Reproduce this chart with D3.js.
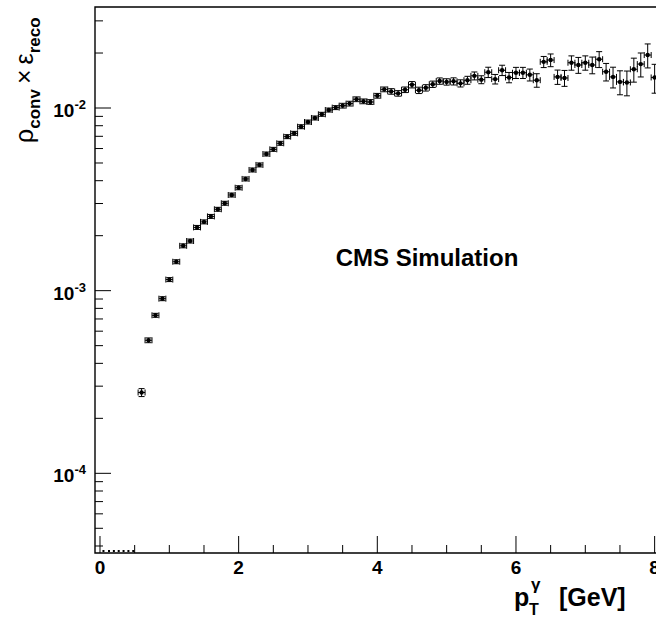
<!DOCTYPE html>
<html>
<head>
<meta charset="utf-8">
<script src="https://cdn.jsdelivr.net/npm/d3@7/dist/d3.min.js"></script>
<style>
  body { margin: 0; background: #fff; }
  svg { display: block; }
  text { font-family: "Liberation Sans", Arial, Helvetica, sans-serif; font-weight: bold; fill: #000; }
</style>
</head>
<body>
<svg id="chart" width="656" height="619"></svg>
<script>
// bin centres (GeV) and rho_conv x eps_reco
const ptBins = [0.6, 0.7, 0.8, 0.9, 1.0, 1.1, 1.2, 1.3, 1.4, 1.5, 1.6, 1.7, 1.8, 1.9, 2.0,
  2.1, 2.2, 2.3, 2.4, 2.5, 2.6, 2.7, 2.8, 2.9, 3.0, 3.1, 3.2, 3.3, 3.4, 3.5,
  3.6, 3.7, 3.8, 3.9, 4.0, 4.1, 4.2, 4.3, 4.4, 4.5, 4.6, 4.7, 4.8, 4.9, 5.0,
  5.1, 5.2, 5.3, 5.4, 5.5, 5.6, 5.7, 5.8, 5.9, 6.0, 6.1, 6.2, 6.3, 6.4, 6.5,
  6.6, 6.7, 6.8, 6.9, 7.0, 7.1, 7.2, 7.3, 7.4, 7.5, 7.6, 7.7, 7.8, 7.9, 8.0];
const effValues = [2.77e-4, 5.35e-4, 7.33e-4, 9.04e-4, 1.15e-3, 1.44e-3, 1.76e-3, 1.87e-3, 2.22e-3, 2.38e-3,
  2.55e-3, 2.79e-3, 3.01e-3, 3.34e-3, 3.66e-3, 4.09e-3, 4.58e-3, 4.88e-3, 5.60e-3, 5.94e-3,
  6.41e-3, 6.97e-3, 7.27e-3, 7.90e-3, 8.38e-3, 8.82e-3, 9.24e-3, 9.75e-3, 1.005e-2, 1.03e-2,
  1.057e-2, 1.117e-2, 1.088e-2, 1.079e-2, 1.167e-2, 1.265e-2, 1.233e-2, 1.203e-2, 1.259e-2, 1.342e-2,
  1.25e-2, 1.29e-2, 1.35e-2, 1.405e-2, 1.39e-2, 1.40e-2, 1.365e-2, 1.42e-2, 1.50e-2, 1.43e-2,
  1.57e-2, 1.44e-2, 1.61e-2, 1.47e-2, 1.56e-2, 1.56e-2, 1.52e-2, 1.42e-2, 1.79e-2, 1.83e-2,
  1.48e-2, 1.46e-2, 1.77e-2, 1.72e-2, 1.77e-2, 1.72e-2, 1.85e-2, 1.58e-2, 1.48e-2, 1.39e-2,
  1.38e-2, 1.63e-2, 1.74e-2, 1.95e-2, 1.47e-2];
// relative error (%) on each bin
const errPct = [5, 3, 2.5, 2.5, 2.5, 2.5, 2.5, 2.5, 2.5, 2.5,
  2.5, 2.5, 2.5, 2.5, 2.5, 2.5, 2.5, 2.5, 2.5, 2.5,
  2.5, 2.5, 2.5, 2.5, 2.5, 2.5, 2.5, 2.5, 2.5, 3,
  3, 3, 3, 3, 3, 3, 3.5, 3.5, 3.5, 4,
  4, 4, 4, 4, 4, 4.5, 4.5, 5, 5, 5,
  6.5, 6, 6.5, 6.5, 7, 7, 7.5, 8.5, 7, 8,
  9, 10, 9, 10, 9, 10.5, 10, 11, 13, 15,
  15.5, 15, 15, 15, 18];
// underflow bins drawn as dots on the axis
const lowBins = [0.05, 0.13, 0.2, 0.27, 0.34, 0.41, 0.48];
const binWidth = 0.1;

const xMajor = [0, 2, 4, 6, 8];
const yDecades = [-4, -3, -2];

const svg = d3.select('#chart');
const frame = { left: 95, top: 7, bottom: 553 };

const x = d3.scaleLinear().domain([-0.072, 10]).range([frame.left, frame.left + 10.072 * 69.33]);
const y = d3.scaleLog().domain([3.662e-5, 3.573e-2]).range([frame.bottom, frame.top]);

const g = svg.append('g');

// frame (right side falls outside the picture)
g.append('path')
	.attr('d', `M${x.range()[1]},${frame.top}H${frame.left}V${frame.bottom}H${x.range()[1]}`)
	.attr('fill', 'none').attr('stroke', '#000').attr('stroke-width', 1.4);

// y ticks: decades long, 2..9 short
const yMinor = [];
yDecades.concat([-5, -1]).forEach((p) => {
	for (let k = 2; k <= 9; k++) yMinor.push(k * Math.pow(10, p));
});
g.selectAll('.ytick-minor').data(yMinor.filter((v) => v > y.domain()[0] && v < y.domain()[1])).enter()
	.append('line').attr('x1', frame.left).attr('x2', frame.left + 8)
	.attr('y1', (d) => y(d)).attr('y2', (d) => y(d))
	.attr('stroke', '#000').attr('stroke-width', 1);
g.selectAll('.ytick-major').data(yDecades).enter()
	.append('line').attr('x1', frame.left).attr('x2', frame.left + 16)
	.attr('y1', (d) => y(Math.pow(10, d))).attr('y2', (d) => y(Math.pow(10, d)))
	.attr('stroke', '#000').attr('stroke-width', 1);

const ylab = g.selectAll('.ylab').data(yDecades).enter()
	.append('text').attr('text-anchor', 'end')
	.attr('x', 86).attr('y', (d) => y(Math.pow(10, d)) + 9);
ylab.append('tspan').attr('font-size', 19).text('10');
ylab.append('tspan').attr('font-size', 13).attr('dy', -8).text((d) => d);

// x ticks
const xMinor = d3.range(0, 10.01, 0.5).filter((v) => xMajor.indexOf(v) < 0);
g.selectAll('.xtick-minor').data(xMinor).enter()
	.append('line').attr('x1', (d) => x(d)).attr('x2', (d) => x(d))
	.attr('y1', frame.bottom).attr('y2', frame.bottom - 8)
	.attr('stroke', '#000').attr('stroke-width', 1);
g.selectAll('.xtick-major').data(xMajor).enter()
	.append('line').attr('x1', (d) => x(d)).attr('x2', (d) => x(d))
	.attr('y1', frame.bottom).attr('y2', frame.bottom - 17)
	.attr('stroke', '#000').attr('stroke-width', 1);
g.selectAll('.xlab').data(xMajor).enter()
	.append('text').attr('text-anchor', 'middle')
	.attr('x', (d) => x(d)).attr('y', 574).attr('font-size', 19)
	.text((d) => d);

// data points with error bars
const pts = ptBins.map((p, i) => ({ x: p, v: effValues[i], e: effValues[i] * errPct[i] / 100 }));
const pt = g.selectAll('.pt').data(pts).enter().append('g').attr('class', 'pt');
const cap = 3;
pt.append('path')
	.attr('d', (d) => {
		const cx = x(d.x), cy = y(d.v);
		const x0 = x(d.x - binWidth / 2), x1 = x(d.x + binWidth / 2);
		const y0 = y(d.v - d.e), y1 = y(d.v + d.e);
		return `M${x0},${cy}H${x1}` +
			`M${x0},${cy - cap}V${cy + cap}M${x1},${cy - cap}V${cy + cap}` +
			`M${cx},${y0}V${y1}` +
			`M${cx - cap},${y0}H${cx + cap}M${cx - cap},${y1}H${cx + cap}`;
	})
	.attr('fill', 'none').attr('stroke', '#000').attr('stroke-width', 1);
pt.append('circle').attr('cx', (d) => x(d.x)).attr('cy', (d) => y(d.v)).attr('r', 2.2).attr('fill', '#000');

g.selectAll('.low').data(lowBins).enter()
	.append('rect').attr('x', (d) => x(d) - 1).attr('y', frame.bottom - 3).attr('width', 2).attr('height', 2)
	.attr('fill', '#000');

// labels
g.append('text').attr('x', 427).attr('y', 266).attr('text-anchor', 'middle').attr('font-size', 24)
	.text('CMS Simulation');

// x title: p, subscript T, superscript gamma, then unit
g.append('text').attr('x', 514).attr('y', 606).attr('font-size', 25).text('p');
g.append('text').attr('x', 529).attr('y', 615).attr('font-size', 16).text('T');
g.append('text').attr('x', 531).attr('y', 590).attr('font-size', 17).attr('font-weight', 'normal').text('γ');
g.append('text').attr('x', 559).attr('y', 606).attr('font-size', 25).text('[GeV]');

const yt = g.append('text').attr('transform', 'translate(33,143) rotate(-90)').attr('font-size', 25);
yt.append('tspan').attr('font-weight', 'normal').text('ρ');
yt.append('tspan').attr('font-size', 17).attr('dy', 7).text('conv');
yt.append('tspan').attr('font-weight', 'normal').attr('dy', -7).attr('dx', 5).text('×');
yt.append('tspan').attr('font-weight', 'normal').attr('dx', 5).text('ε');
yt.append('tspan').attr('font-size', 17).attr('dy', 7).text('reco');
</script>
</body>
</html>
